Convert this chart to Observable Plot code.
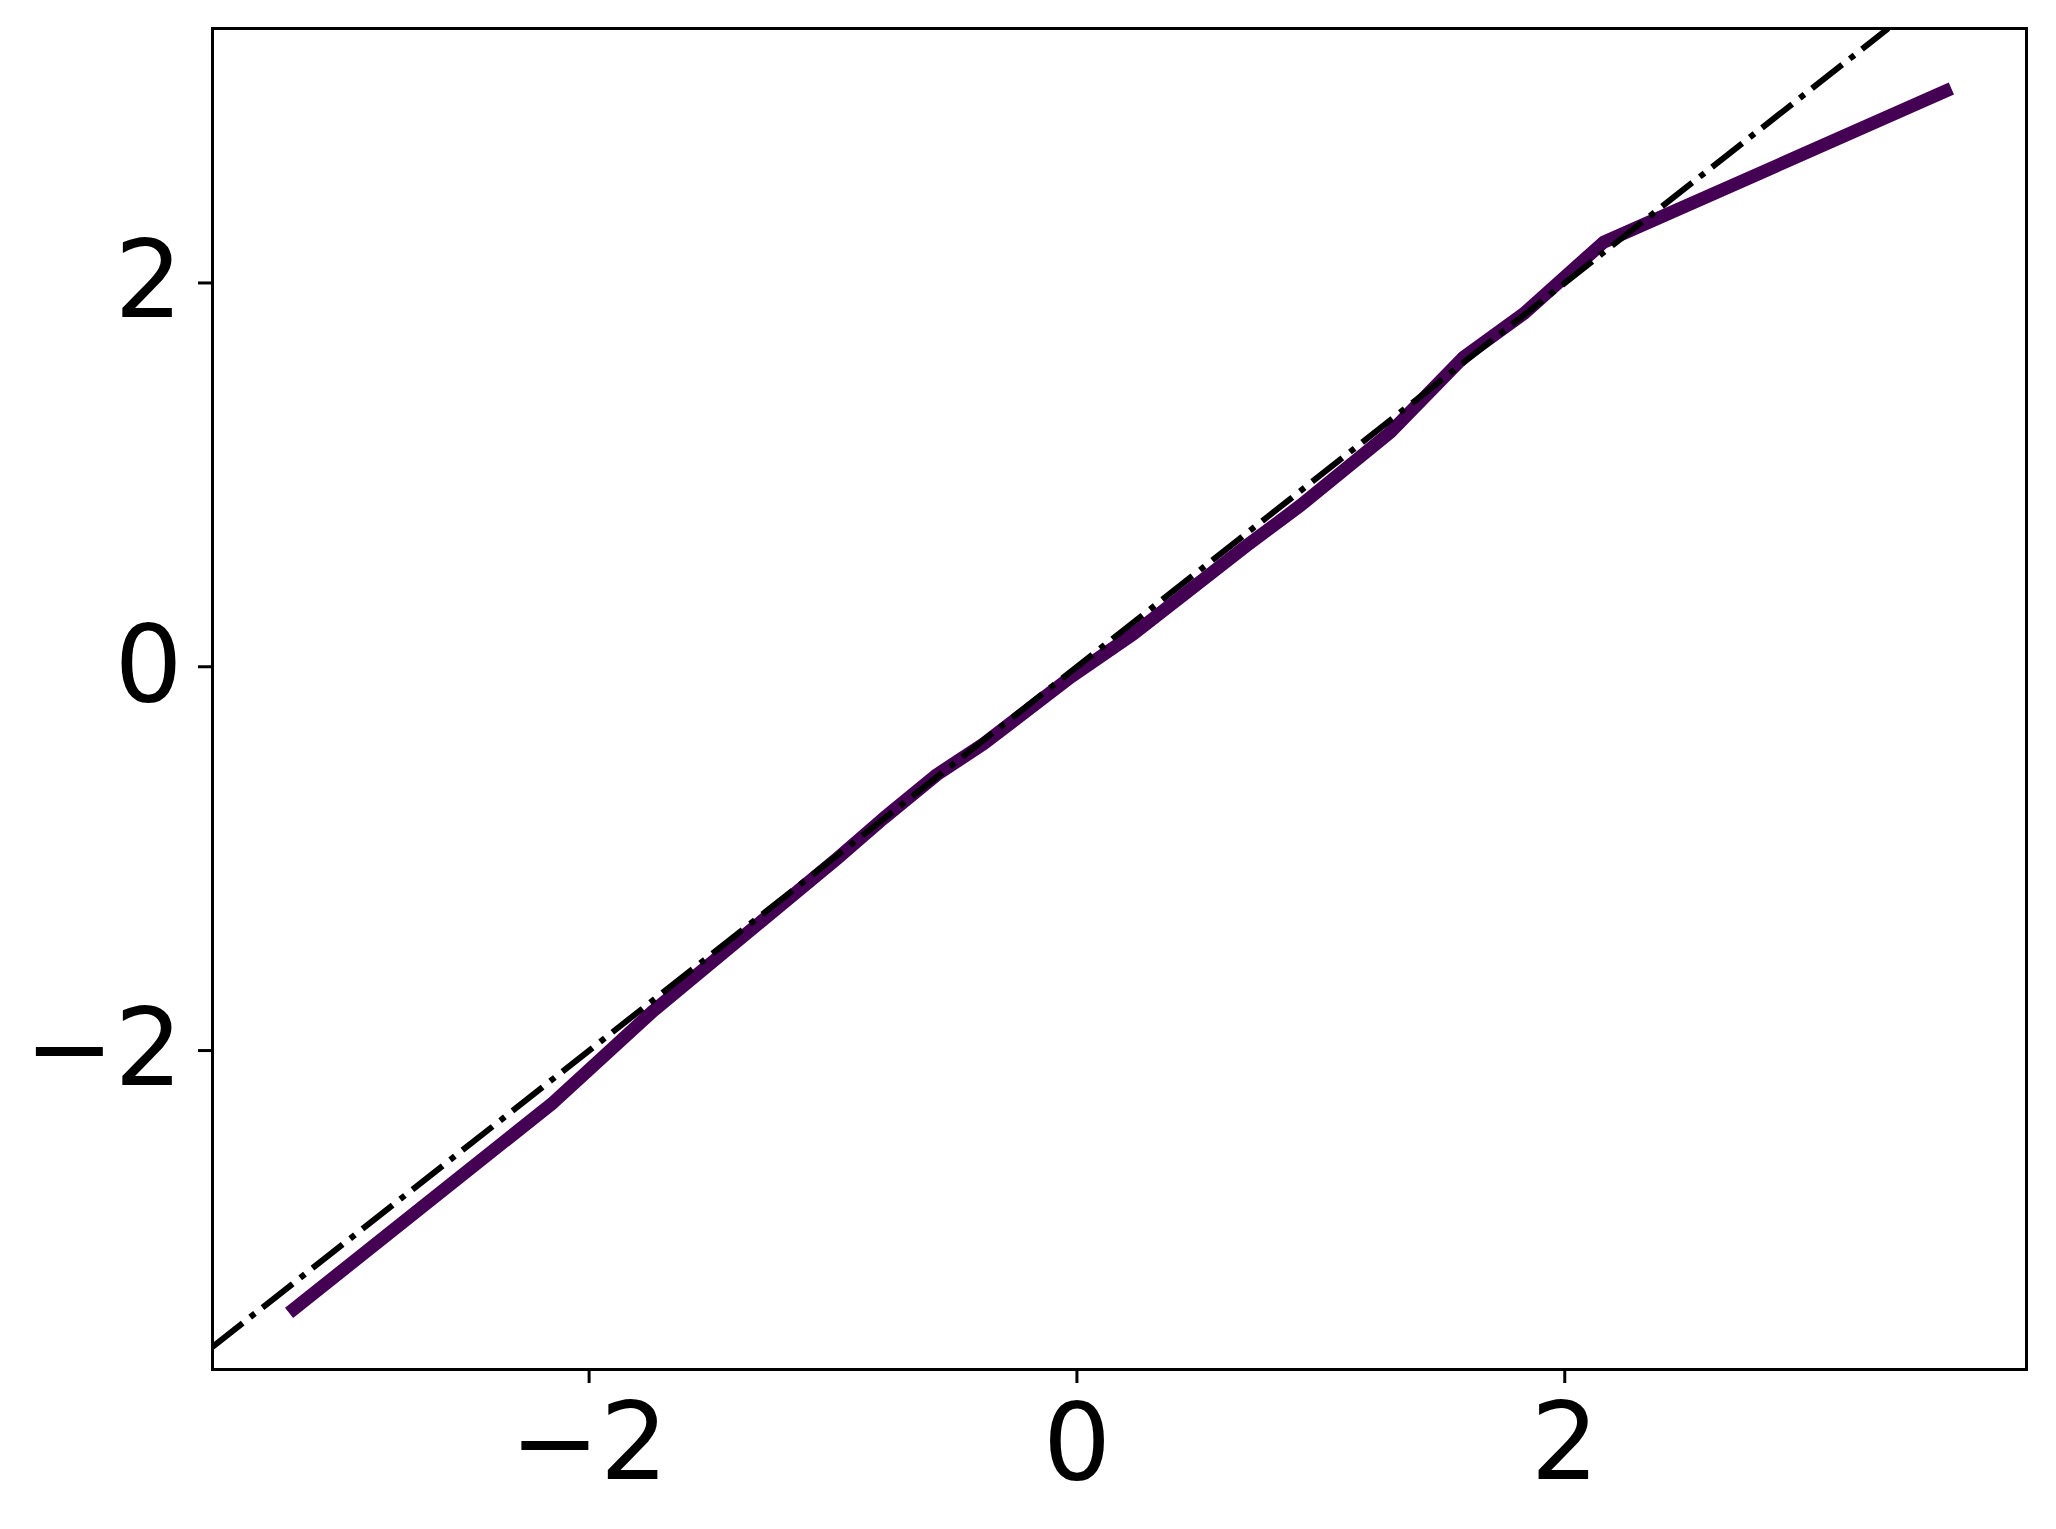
<!DOCTYPE html>
<html><head><meta charset="utf-8">
<script src="https://cdn.jsdelivr.net/npm/d3@7"></script>
<script src="https://cdn.jsdelivr.net/npm/@observablehq/plot@0.6"></script>
<style>html,body{margin:0;padding:0;background:#fff;}</style>
</head><body><div id="chart"></div>
<script>
// Series values
const xValues = [-3.230, -2.147, -1.736, -0.984, -0.793, -0.574, -0.383, -0.178, -0.027, 0.232, 0.697, 0.916, 1.285, 1.585, 1.831, 2.159, 3.585];
const yValues = [-3.367, -2.271, -1.792, -1.000, -0.790, -0.562, -0.402, -0.202, -0.055, 0.171, 0.632, 0.840, 1.222, 1.613, 1.839, 2.212, 3.013];
// Axis settings
const xTicks = [-2, 0, 2];
const yTicks = [-2, 0, 2];
const xDomain = [-3.544, 3.893];
const yDomain = [-3.662, 3.326];

const curve = xValues.map((x, i) => ({x, y: yValues[i]}));
// identity reference line y = x across the visible area
const lo = Math.max(xDomain[0], yDomain[0]);
const hi = Math.min(xDomain[1], yDomain[1]);
const refLine = [lo, hi].map(v => ({x: v, y: v}));
const fmt = d => (d < 0 ? "\u2212" : "") + Math.abs(d);

const chart = Plot.plot({
  width: 2056,
  height: 1529,
  marginLeft: 212,
  marginRight: 30,
  marginTop: 28,
  marginBottom: 160,
  style: {fontFamily: "DejaVu Sans", fontSize: "107px", color: "black", background: "white"},
  x: {domain: xDomain},
  y: {domain: yDomain},
  marks: [
    Plot.line(curve, {x: "x", y: "y", stroke: "#440154", strokeWidth: 13, strokeLinejoin: "round", strokeLinecap: "butt"}),
    Plot.line(refLine, {x: "x", y: "y", stroke: "black", strokeWidth: 6, strokeDasharray: "38.4,9.6,6,9.6", strokeLinecap: "butt", clip: true}),
    Plot.frame({stroke: "black", strokeWidth: 3}),
    Plot.axisX({ticks: xTicks, tickFormat: fmt, tickSize: 14, tickPadding: 20, strokeWidth: 3, label: null, fontSize: 107}),
    Plot.axisY({ticks: yTicks, tickFormat: fmt, tickSize: 14, tickPadding: 16, strokeWidth: 3, label: null, fontSize: 107})
  ]
});
document.getElementById("chart").appendChild(chart);
</script>
</body></html>
